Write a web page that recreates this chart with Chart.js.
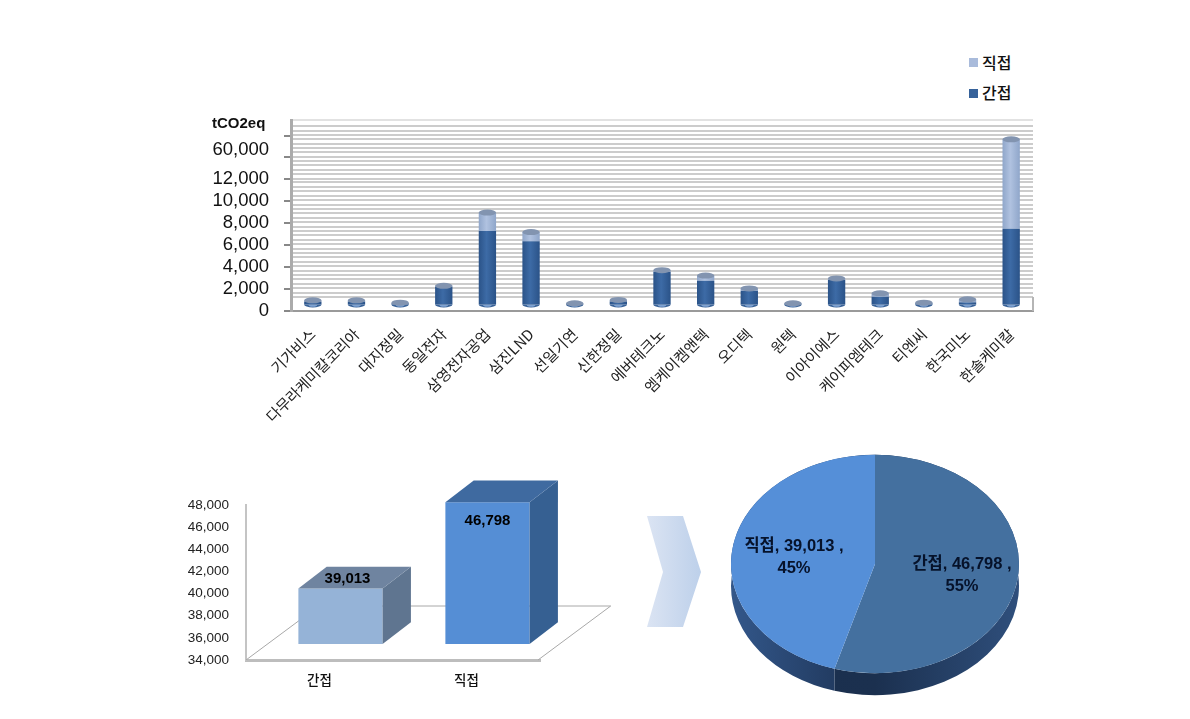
<!DOCTYPE html>
<html lang="ko">
<head>
<meta charset="utf-8">
<title>tCO2eq</title>
<script src="https://cdn.jsdelivr.net/npm/chart.js@4"></script>
<style>
html,body{margin:0;padding:0;background:#fff;width:1190px;height:719px;overflow:hidden}
canvas{position:absolute;display:block}
.lg{position:absolute;font:500 16px "Noto Sans CJK KR",sans-serif;color:#111;line-height:20px}
.sw{position:absolute;width:9px;height:9px}
svg{position:absolute;left:640px;top:510px}
</style>
</head>
<body>
<span class="sw" style="left:969px;top:58px;background:#a9bbdb"></span><span class="lg" style="left:982px;top:52px">직접</span>
<span class="sw" style="left:969px;top:89px;background:#36629a"></span><span class="lg" style="left:982px;top:82px">간접</span>
<svg width="70" height="125"><defs><linearGradient id="g" x1="0" x2="1" y1="0" y2="0"><stop offset="0" stop-color="#dbe4f3"/><stop offset="1" stop-color="#bdd0ea"/></linearGradient></defs><polygon points="7,6 43,6 61,62 43,117 7,117 23,62" fill="url(#g)"/></svg>
<canvas id="c1" width="860" height="336" style="left:190px;top:94px"></canvas>
<canvas id="c2" width="450" height="240" style="left:180px;top:470px"></canvas>
<canvas id="c3" width="320" height="320" style="left:715px;top:404px"></canvas>
<script>
// ---- Company chart data ----
const companies = ["기가비스","다무라케미칼코리아","대지정밀","동일전자","삼영전자공업","삼진LND","선일기연","신한정밀","에버테크노","엠케이켐앤텍","오디텍","원텍","이아이에스","케이피엠테크","티엔씨","한국미노","한솔케미칼"];
const indirectByCompany = [270,270,110,1620,6660,5730,80,280,2960,2150,1240,80,2220,700,110,200,6870];
const directByCompany   = [110,110,50,80,1680,840,30,130,150,480,220,30,140,310,50,270,60080];
const companyAxisLabels = [0,2000,4000,6000,8000,10000,12000,60000];
const companyAxisMinorMarks = [48400,83200];
const legendNames = ["직접","간접"];
// ---- Totals ----
const totalCategories = ["간접","직접"];
const totalValues = [39013,46798];
const totalAxisMin = 34000, totalAxisMax = 48000, totalAxisStep = 2000;
// ---- Share pie ----
const shareCategories = ["간접","직접"];
const shareValues = [46798,39013];
const sharePercents = ["55%","45%"];

const fmt = v => v.toLocaleString("en-US");
const LATIN = '"Liberation Sans","Noto Sans CJK KR",sans-serif';

// axis with a break above 12,000 and an optional pixel shift (3D chart depth)
const breakValue = 12000, breakFraction = 0.693;
class BrokenScale extends Chart.LinearScale {
  static id = "broken";
  static defaults = Chart.LinearScale.defaults;
  buildTicks(){
    const t = this.options.tickValues;
    return t ? Array.from(t).map(value=>({value})) : super.buildTicks();
  }
  frac(v){
    const bv = this.options.breakAt, bf = this.options.breakFrac;
    if(!bv) return (v-this.min)/(this.max-this.min);
    return v<=bv ? v/bv*bf : bf+(v-bv)/(this.max-bv)*(1-bf);
  }
  getPixelForValue(v){ return this.bottom-this.frac(v)*(this.bottom-this.top)+(this.options.shift||0); }
}
class ShiftedCategory extends Chart.CategoryScale {
  static id = "shiftedCategory";
  static defaults = Chart.CategoryScale.defaults;
  getPixelForValue(v,i){ return super.getPixelForValue(v,i)+(this.options.shift||0); }
}
Chart.register(BrokenScale, ShiftedCategory);
Chart.defaults.animation = false;
Chart.defaults.responsive = false;
Chart.defaults.devicePixelRatio = 1;
Chart.defaults.plugins.legend.display = false;
Chart.defaults.plugins.tooltip.enabled = false;

// ---- Chart 1 -------------------------------------------------------------
const stripes = [];
for(let v=1260;v<breakValue;v+=400) stripes.push(v);
for(let v=breakValue+200;v<106000;v+=7300) stripes.push(v);
const yMax = 110000;
const allTicks = [...stripes, ...companyAxisLabels, ...companyAxisMinorMarks, yMax];
const cylGrad = (stops, w) => ctx => {
  const s = ctx.chart.scales.x;
  if(!s || ctx.dataIndex===undefined) return stops[1];
  const cx = s.getPixelForValue(ctx.dataIndex);
  if(!isFinite(cx)) return stops[1];
  const g = ctx.chart.ctx.createLinearGradient(cx-w,0,cx+w,0);
  g.addColorStop(0,stops[0]); g.addColorStop(.45,stops[1]); g.addColorStop(1,stops[0]);
  return g;
};
const cylinders = {
  id:"cylinders",
  afterDatasetsDraw(chart){
    const c = chart.ctx, m0 = chart.getDatasetMeta(0), m1 = chart.getDatasetMeta(1);
    m0.data.forEach((b,i)=>{
      const t = m1.data[i], rx = b.width/2, ry = 3;
      c.save();
      c.beginPath(); c.ellipse(b.x,b.base,rx,ry,0,0,Math.PI); c.fillStyle="#3a6398"; c.fill();
      c.beginPath(); c.ellipse(b.x,b.base+.5,rx*.5,ry*.6,0,0,Math.PI); c.fillStyle="#7fa3d2"; c.fill();
      c.beginPath(); c.ellipse(t.x,t.y,rx,ry,0,0,Math.PI*2); c.fillStyle="#8294b0"; c.fill();
      c.restore();
    });
  },
  afterDraw(chart){
    const c = chart.ctx, a = chart.chartArea;
    c.save();
    c.fillStyle="#111"; c.font="bold 15px "+LATIN; c.textBaseline="middle"; c.textAlign="left";
    c.fillText("tCO2eq",22,30);
    c.strokeStyle="#b5b5b5"; c.lineWidth=2;
    c.beginPath(); c.moveTo(a.right,a.bottom-14); c.lineTo(a.right,a.bottom); c.stroke();
    c.restore();
  }
};
new Chart(document.getElementById("c1"),{
  type:"bar",
  data:{labels:companies,datasets:[
    {label:legendNames[1],data:indirectByCompany,yAxisID:"yb",backgroundColor:cylGrad(["#2a5287","#3d6ba6"],9),barPercentage:.397,categoryPercentage:1,clip:false},
    {label:legendNames[0],data:directByCompany,yAxisID:"yb",backgroundColor:cylGrad(["#8ea5c9","#b0c2e0"],9),barPercentage:.397,categoryPercentage:1,clip:false}
  ]},
  options:{
    layout:{autoPadding:false,padding:{left:0,right:17,top:13,bottom:0}},
    scales:{
      x:{stacked:true,afterFit:s=>{s.height=119},
        grid:{display:false},border:{color:"#9a9a9a",width:2},
        ticks:{autoSkip:false,minRotation:45,maxRotation:45,padding:6,color:"#222",font:{family:'"Noto Sans CJK KR",sans-serif',size:15}}},
      y:{type:"broken",min:0,max:yMax,breakAt:breakValue,breakFrac:breakFraction,tickValues:allTicks,
        afterFit:s=>{s.width=101},
        border:{color:"#ababab",width:3},
        grid:{lineWidth:2,tickLength:7,
          color:c=>{const v=c.tick&&c.tick.value; if(v===yMax) return "#e2e2e2"; return stripes.includes(v)?"#cccccc":"rgba(0,0,0,0)";},
          tickColor:c=>{const v=c.tick&&c.tick.value; if(v===60000||!v) return v===0?"#888":"rgba(0,0,0,0)"; return (companyAxisLabels.includes(v)||companyAxisMinorMarks.includes(v))?"#888":"rgba(0,0,0,0)";}},
        ticks:{autoSkip:false,padding:15,color:"#111",font:{family:LATIN,size:18.5},
          callback:v=>companyAxisLabels.includes(v)?fmt(v):""}},
      yb:{type:"broken",display:false,stacked:true,min:0,max:yMax,breakAt:breakValue,breakFrac:breakFraction,shift:-6.5}
    }
  },
  plugins:[cylinders]
});

// ---- Chart 2 -------------------------------------------------------------
const frontColors=["#95b3d7","#558ed5"], topColors=["#6f84a0","#3f6aa0"], sideColors=["#5f7590","#366092"];
const boxDepth={dx:28.3,dy:-21.7}, floorDepth={dx:72.7,dy:-54};
const labelNudge=[{x:7,y:-10},{x:0,y:19}];
const boxes = {
  id:"boxes",
  beforeDatasetsDraw(chart){
    const c=chart.ctx,a=chart.chartArea;
    c.save(); c.lineWidth=1; c.strokeStyle="#a8a8a8";
    c.beginPath();
    c.moveTo(a.left,a.bottom); c.lineTo(a.left+floorDepth.dx,a.bottom+floorDepth.dy);
    c.lineTo(a.right-2+floorDepth.dx,a.bottom+floorDepth.dy); c.lineTo(a.right-2,a.bottom);
    c.stroke(); c.restore();
  },
  afterDatasetsDraw(chart){
    const c=chart.ctx,{dx,dy}=boxDepth;
    chart.getDatasetMeta(0).data.forEach((b,i)=>{
      const l=b.x-b.width/2,r=b.x+b.width/2;
      c.fillStyle=sideColors[i]; c.beginPath(); c.moveTo(r,b.y); c.lineTo(r+dx,b.y+dy); c.lineTo(r+dx,b.base+dy); c.lineTo(r,b.base); c.closePath(); c.fill();
      c.fillStyle=topColors[i]; c.beginPath(); c.moveTo(l,b.y); c.lineTo(r,b.y); c.lineTo(r+dx,b.y+dy); c.lineTo(l+dx,b.y+dy); c.closePath(); c.fill();
      c.fillStyle="#000"; c.font="bold 15px "+LATIN; c.textAlign="center"; c.textBaseline="middle";
      c.fillText(fmt(totalValues[i]),b.x+labelNudge[i].x,b.y+labelNudge[i].y);
    });
  }
};
new Chart(document.getElementById("c2"),{
  type:"bar",
  data:{labels:totalCategories,datasets:[{data:totalValues,base:totalAxisMin,xAxisID:"xb",yAxisID:"yb",backgroundColor:frontColors,barPercentage:.573,categoryPercentage:1,clip:false}]},
  options:{
    layout:{autoPadding:false,padding:{left:0,right:90,top:35,bottom:0}},
    scales:{
      x:{afterFit:s=>{s.height=50},grid:{display:false},border:{color:"#bdbdbd",width:3},
        ticks:{padding:4,color:"#111",font:{family:'"Noto Sans CJK KR",sans-serif',size:13.5,weight:"500"}}},
      xb:{type:"shiftedCategory",display:false,shift:21},
      y:{min:totalAxisMin,max:totalAxisMax,afterFit:s=>{s.width=66},grid:{display:false},border:{color:"#c4c4c4",width:2},
        ticks:{stepSize:totalAxisStep,padding:9,color:"#222",font:{family:LATIN,size:13.5},callback:v=>fmt(v)}},
      yb:{type:"broken",display:false,min:totalAxisMin,max:totalAxisMax,shift:-16}
    }
  },
  plugins:[boxes]
});

// ---- Chart 3 -------------------------------------------------------------
const squash=.758, wallDepth=22;
const pieLabels=[{dx:87,dy:11},{dx:-81,dy:-7}];
const pie3d={
  id:"pie3d",
  beforeDatasetsDraw(chart){
    const c=chart.ctx, arcs=chart.getDatasetMeta(0).data, cx=arcs[0].x, cy=arcs[0].y, R=arcs[0].outerRadius;
    c.save();
    arcs.forEach((a,i)=>{
      const g=c.createLinearGradient(cx-R,0,cx+R,0);
      if(i===0){g.addColorStop(0,"#1a2f4d");g.addColorStop(.5,"#1b304f");g.addColorStop(1,"#2f4f7c");}
      else{g.addColorStop(0,"#33578a");g.addColorStop(.45,"#1e3558");g.addColorStop(1,"#1e3558");}
      c.fillStyle=g;
      c.beginPath();
      c.ellipse(cx,cy,R,R*squash,0,a.startAngle,a.endAngle);
      c.ellipse(cx,cy+wallDepth,R,R*squash,0,a.endAngle,a.startAngle,true);
      c.closePath(); c.fill();
    });
    c.restore();
    c.save();
    c.translate(cx,cy); c.scale(1,squash); c.translate(-cx,-cy);
  },
  afterDatasetsDraw(chart){
    chart.ctx.restore();
    const c=chart.ctx, a=chart.getDatasetMeta(0).data[0];
    c.save(); c.fillStyle="#06122a"; c.font="bold 16.5px "+LATIN; c.textAlign="center"; c.textBaseline="middle";
    shareCategories.forEach((n,i)=>{
      const x=a.x+pieLabels[i].dx, y=a.y+pieLabels[i].dy;
      c.fillText(n+", "+fmt(shareValues[i])+" ,",x,y-11);
      c.fillText(sharePercents[i],x,y+11);
    });
    c.restore();
  }
};
new Chart(document.getElementById("c3"),{
  type:"pie",
  data:{labels:shareCategories,datasets:[{data:shareValues,backgroundColor:["#44709f","#558fd8"],borderWidth:0,clip:false}]},
  options:{layout:{autoPadding:false,padding:16}},
  plugins:[pie3d]
});
</script>
</body>
</html>
